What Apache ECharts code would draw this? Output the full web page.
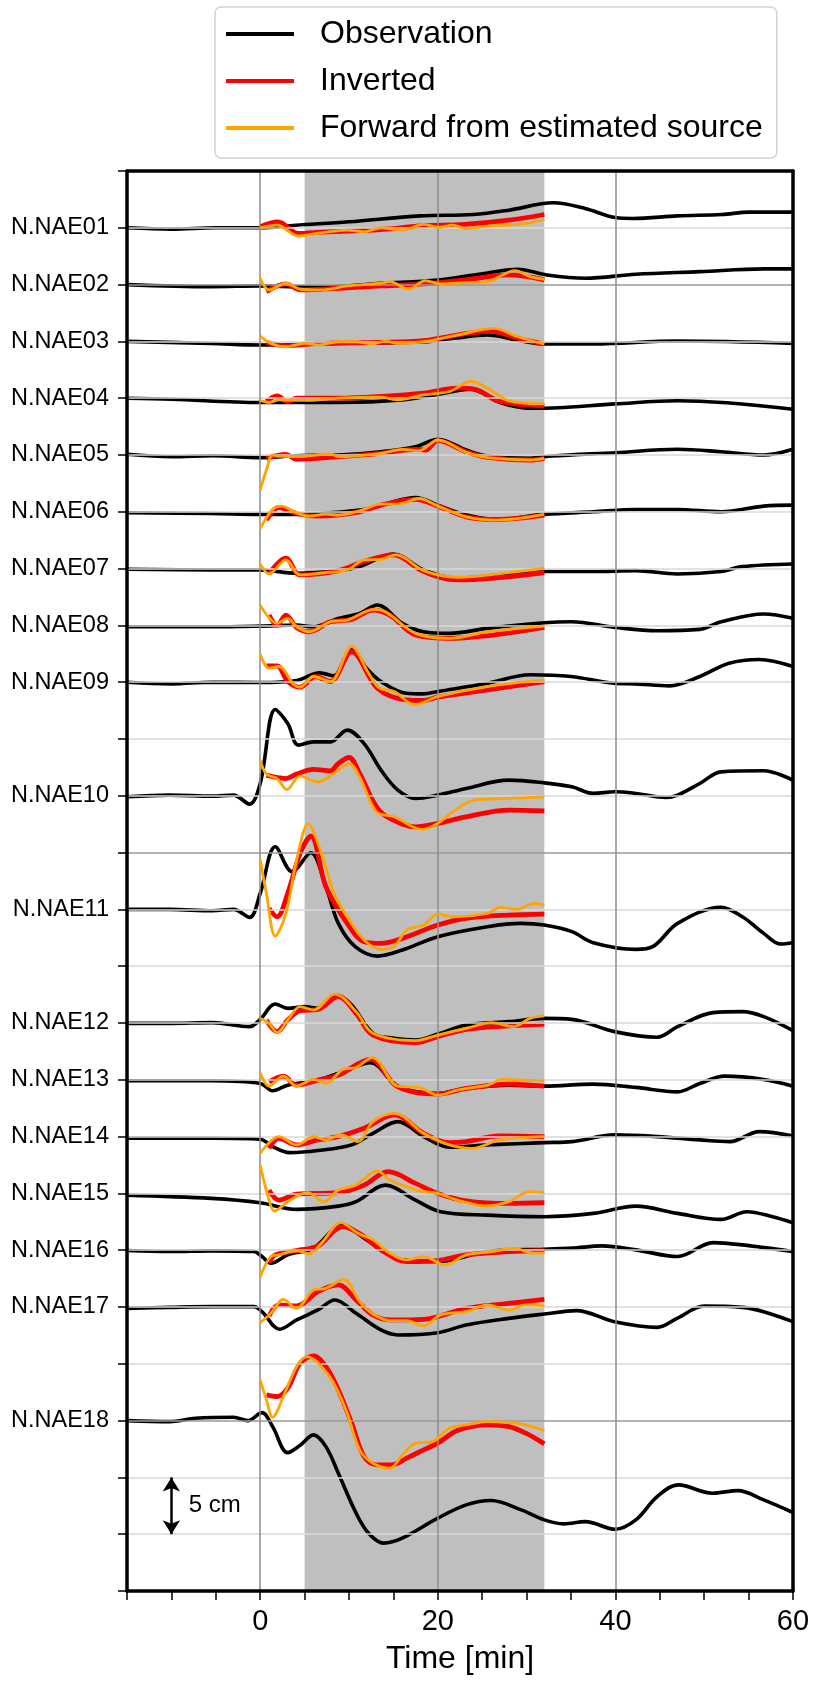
<!DOCTYPE html>
<html>
<head>
<meta charset="utf-8">
<script src="https://cdn.jsdelivr.net/npm/echarts@6/dist/echarts.min.js"></script>
<style>
html, body { margin: 0; padding: 0; background: #fff; }
#main { width: 814px; height: 1682px; }
</style>
</head>
<body>
<div id="main"></div>
<script>
// station names and their slot on the vertical axis (1 slot = 5 cm)
var stations = ['N.NAE01', 'N.NAE02', 'N.NAE03', 'N.NAE04', 'N.NAE05', 'N.NAE06', 'N.NAE07', 'N.NAE08', 'N.NAE09',
    'N.NAE10', 'N.NAE11', 'N.NAE12', 'N.NAE13', 'N.NAE14', 'N.NAE15', 'N.NAE16', 'N.NAE17', 'N.NAE18'];
var stationPos = [1, 2, 3, 4, 5, 6, 7, 8, 9, 11, 13, 15, 16, 17, 18, 19, 20, 22];
var cmPerSlot = 5;

// waveforms: [time min, displacement cm]
var observed = [
    [[-15,0],[-10,-0.12],[-5,0],[0,0],[4,0.23],[10,0.53],[18,1.05],[24,1.17],[28,1.55],[33,2.2],[36.6,1.7],[40,0.9],[42,0.82],[47,1.05],[52,1.17],[55,1.38],[60,1.38]],
    [[-15,0],[-5.5,-0.18],[0,-0.12],[6.5,-0.23],[13.6,0.12],[20,0.41],[24.6,0.91],[29,1.35],[32.3,0.85],[36.6,0.56],[42.3,0.91],[49.5,1.14],[56.7,1.38],[60,1.38]],
    [[-15,0],[-5.5,-0.18],[0,-0.32],[8.8,-0.18],[18.4,-0.03],[22,0.3],[25.6,0.56],[29,0.1],[32,-0.23],[37.5,-0.23],[47,0.03],[60,-0.18]],
    [[-15,0],[-10,-0.09],[0,-0.38],[8.8,-0.38],[16,-0.15],[20,0.35],[23.7,0.79],[27,-0.38],[30.4,-0.88],[32,-0.88],[40,-0.5],[47,-0.23],[60,-0.97]],
    [[-15,0.06],[-10,-0.15],[-5.3,-0.06],[0,-0.23],[4.1,-0.06],[8.8,0],[13.6,0.29],[17.5,0.73],[20,1.38],[23.2,0.44],[25.6,-0.09],[30.4,-0.29],[32.8,-0.09],[40,0.2],[47,0.5],[51.9,0.29],[56.7,0],[60,0.5]],
    [[-15,-0.09],[-5.5,-0.15],[0,-0.23],[4.1,-0.23],[11.2,0.15],[13.6,0.59],[17.5,1.26],[20,0.59],[23.2,-0.29],[26.6,-0.67],[32,-0.23],[37.5,0],[42.3,0.2],[47,0.2],[51.9,0],[56.7,0.5],[60,0.59]],
    [[-15,-0.06],[-5.5,-0.12],[0,-0.12],[4.1,-0.41],[8.8,-0.18],[11.2,0.18],[15,1.29],[18.4,-0.12],[22.2,-0.85],[28,-0.47],[32,-0.26],[37.5,-0.26],[42.3,-0.18],[47,-0.47],[51.9,-0.26],[54.3,0.18],[60,0.41]],
    [[-15,-0.12],[-5.5,-0.12],[0,-0.06],[4.1,0.03],[6,-0.12],[8.8,0.62],[11.2,1.06],[13.2,1.79],[16,0.18],[18.4,-0.56],[21.3,-0.7],[25.6,-0.26],[32,0.23],[35,0.32],[40,-0.18],[44.7,-0.47],[49.5,-0.35],[51.9,0.32],[56.7,1],[60,0.62]],
    [[-15,0],[-10,-0.15],[-5.5,0],[0,-0.03],[4.1,0.15],[6.7,0.82],[8.3,0.56],[10.3,2.85],[12,1.2],[13.6,0.06],[16.4,-0.97],[18.4,-1.03],[20,-0.82],[25.6,-0.09],[30.4,0.65],[35,0.5],[39.8,-0.09],[42.3,-0.15],[46.1,-0.32],[49.5,0.5],[52.8,1.67],[56.2,2.0],[60,1.38]],
    [[-15,-0.09],[-10.2,0.06],[-5.4,-0.03],[-3,0.06],[-1.2,-0.73],[0,1.08],[1.7,7.6],[3.1,6.36],[4.3,4.46],[6,4.75],[7.9,4.75],[9.8,5.78],[11.7,4.6],[13.6,2.26],[15.5,0.5],[17.5,-0.23],[20,0.06],[23.2,0.65],[28,1.38],[32,1.14],[35.1,0.79],[37.5,0.21],[39.9,0.35],[42.3,0.21],[45.7,-0.15],[47,0.06],[49.5,1.08],[51.9,2.11],[56.7,2.2],[60,1.38]],
    [[-15,0],[-10.2,0],[-5.4,-0.12],[-3,0],[-1.2,-0.7],[0,1.41],[1.7,5.51],[3.6,3.31],[5.7,4.99],[7.4,1.99],[8.8,-1.23],[10.7,-3.28],[13.2,-4.11],[16,-3.58],[20,-2.4],[25.6,-1.52],[29.4,-1.23],[32,-1.38],[35.1,-1.96],[37.5,-2.93],[42.3,-3.52],[44.2,-3.28],[47,-1.23],[51.9,0.18],[54.3,-0.65],[56.7,-2.11],[58.6,-3.05],[60,-2.93]],
    [[-15,-0.03],[-10.2,-0.03],[-5.4,0.03],[-1.2,-0.32],[0,0.32],[1.7,1.67],[3.1,1.29],[5,1.44],[6.5,1.29],[8.6,2.46],[10.3,1.58],[12.7,-0.91],[15.1,-1.35],[17.5,-1.5],[20,-0.97],[23.2,-0.18],[28,0.12],[32,0.41],[35.1,0.32],[39.9,-0.76],[44.7,-1.26],[47,-0.32],[51,0.91],[54.3,1],[56.7,0.56],[60,-0.67]],
    [[-15,-0.09],[-5.5,-0.09],[0,-0.32],[1.4,-0.97],[3.1,-0.47],[6.5,-0.03],[9.8,0.85],[12.4,1.5],[15.5,-0.56],[20,-1.2],[23.2,-0.76],[28,-0.47],[32,-0.56],[37.5,-0.38],[42.3,-0.67],[47,-1.06],[49.5,-0.32],[52.3,0.32],[56.7,0.03],[60,-0.56]],
    [[-15,-0.15],[-5.5,-0.15],[0,-0.23],[1.4,-0.88],[3.3,-1.41],[6.5,-1.23],[10.3,-0.73],[12.7,0.29],[15.5,1.32],[18.4,0],[21.3,-0.94],[25.6,-0.73],[32,-0.53],[35.1,-0.44],[39.9,0.15],[44.7,0],[49.5,-0.29],[52.9,-0.44],[56.2,0.44],[60,0.06]],
    [[-15,-0.15],[-5.5,-0.44],[0,-0.82],[4.1,-1.41],[8.8,-1.12],[10.8,-0.73],[14.1,0.73],[17.5,-0.59],[20.3,-1.61],[25.6,-1.91],[32,-2.05],[37.5,-1.76],[42.3,-1.12],[47,-1.76],[51.9,-2.29],[54.8,-1.61],[57.7,-2.05],[60,-2.58]],
    [[-15,-0.03],[-10.2,-0.12],[-5.4,-0.06],[-0.7,-0.12],[0.2,-0.56],[1.2,-1.14],[3.1,-0.41],[6,0.18],[9.3,2.23],[11.7,1.06],[13.6,0.09],[16,-0.85],[20,-1],[25.6,-0.12],[32,0.09],[35.1,0.18],[38.5,0.38],[42.3,0.03],[47,-0.56],[51,0.67],[54.3,0.47],[60,-0.12]],
    [[-15,-0.12],[-10.2,-0.03],[-5.4,0.03],[-0.7,0.03],[0.2,-0.41],[2.2,-1.96],[4.1,-1.14],[6.5,-0.26],[8.4,0.62],[10.8,-0.56],[13.6,-2.02],[15.5,-2.46],[20,-2.26],[23.2,-1.58],[28,-1],[32,-0.62],[35.6,-0.32],[39.9,-1.29],[44.7,-1.79],[47,-0.97],[50,0.09],[54.3,-0.03],[56.7,-0.41],[60,-1.29]],
    [[-15,0],[-10.2,-0.09],[-7.3,0.2],[-3,0.29],[-1.4,0],[0.2,0.7],[1.4,-0.53],[3.1,-2.82],[4.5,-2.17],[6,-1.26],[7.4,-2.29],[8.8,-4.63],[10.8,-8.15],[12.2,-9.91],[13.9,-10.79],[16,-10.35],[20,-8.59],[23.2,-7.42],[26,-7.04],[29.4,-7.86],[32,-8.74],[34.2,-9.09],[36.6,-8.89],[40,-9.56],[42.3,-8.74],[44.7,-6.69],[47.1,-5.66],[50.9,-6.39],[53.8,-6.16],[56.7,-6.98],[60,-8.09]]
];

var inverted = [
    [[0,0.1],[2,0.53],[4.3,-0.5],[6.5,-0.4],[13.6,-0.15],[18.4,0.18],[23,0.3],[28,0.67],[32,1.17]],
    [[0.7,-0.62],[2.9,0.06],[4.5,-0.47],[8.8,-0.32],[13.6,-0.12],[18.4,0.06],[23.2,0.41],[28,0.85],[32,0.41]],
    [[0.7,-0.09],[2.9,-0.38],[6.5,-0.18],[13.6,-0.09],[18.4,0.06],[22.2,0.56],[26,0.91],[29,0.26],[32,-0.23]],
    [[0.7,-0.29],[1.9,0.2],[3.1,-0.29],[4.1,0],[8.8,0],[13.6,0.15],[18.4,0.44],[22.2,0.88],[24.1,0.79],[27,-0.29],[32,-0.67]],
    [[0.7,-0.3],[2.9,0.06],[4.1,-0.38],[8.8,-0.15],[13.6,0.15],[17.5,0.5],[18.6,0.44],[20,1.26],[23.2,0.29],[25.6,-0.2],[30.4,-0.44],[32,-0.29]],
    [[0.7,-0.73],[2.1,0.38],[4.1,-0.15],[6.5,-0.38],[11.2,0],[13.6,0.59],[17.5,1.09],[20,0.5],[23.2,-0.44],[26.6,-0.67],[32,-0.29]],
    [[1,-0.47],[2.9,0.91],[4.5,-0.56],[8.8,-0.18],[11.7,0.62],[15,1.2],[18.4,-0.26],[22.2,-1],[32,-0.35]],
    [[1,0.91],[1.9,0.03],[2.9,0.91],[4.1,-0.18],[5.5,-0.56],[7.9,0.32],[10.3,0.53],[12.7,1.35],[14.6,0.91],[17.5,-0.85],[21.3,-1.14],[32,-0.18]],
    [[0.7,1.44],[1.9,1.44],[3.1,0.06],[4.5,-0.44],[6.2,0.5],[7.9,0.06],[10.3,2.7],[13.2,-0.53],[16.4,-1.55],[18.4,-1.61],[20,-1.32],[25.6,-0.67],[32,0.06]],
    [[0.7,1.82],[2.9,1.52],[4.1,1.91],[6,2.32],[7.9,2.2],[8.8,2.84],[10,3.37],[11.2,1.96],[13.1,-0.97],[14.6,-1.99],[17.5,-2.73],[20,-2.43],[23.2,-1.85],[28,-1.26],[32,-1.32]],
    [[1,0.09],[1.9,-0.65],[3.1,1.41],[4.5,4.93],[5.7,6.45],[7.4,1.99],[9.8,-1.23],[11.7,-2.85],[13.6,-2.99],[16,-2.55],[20,-1.38],[23.2,-0.79],[28,-0.5],[32,-0.41]],
    [[0.7,0.26],[1.9,-0.76],[3.1,0.26],[4.5,1.08],[6.5,1.2],[8.8,2.32],[10.8,0.85],[12.7,-1.06],[17.5,-1.73],[20,-1.2],[23.2,-0.56],[28,-0.26],[32,-0.09]],
    [[1,-0.18],[2.6,0.32],[4.1,-0.47],[6.5,-0.03],[8.8,0.41],[12.4,1.79],[15.5,-0.62],[20,-1.26],[23.2,-0.76],[28,-0.38],[32,-0.56]],
    [[1,-1.03],[2.1,-0.15],[4.1,-0.73],[6.5,-0.29],[8.8,0],[11.7,0.73],[15.1,1.91],[18.4,0.29],[21.3,-0.53],[23.2,-0.44],[27,0.06],[32,0]],
    [[1,0.29],[2.1,-0.59],[4.1,-0.06],[8.8,0.06],[11.7,0.73],[14.4,1.91],[17.5,0.88],[20,0],[23.2,-0.65],[28,-0.88],[32,-0.82]],
    [[1,-1.09],[1.7,-0.41],[4.1,-0.03],[6.5,0.38],[9.3,2.08],[11.7,1.2],[13.6,0.03],[16.5,-1],[20,-0.91],[23.2,-0.41],[28,-0.12],[32,-0.03]],
    [[1,-0.79],[2.1,0.18],[4.1,0.09],[6.5,1.35],[8.8,1.94],[10.8,0.62],[12.7,-0.7],[14.6,-1.14],[18.4,-1.09],[23.2,-0.12],[28,0.32],[32,0.67]],
    [[0.7,2.26],[1.9,2.11],[3.1,2.85],[4.5,5.04],[6,5.69],[7.4,4.75],[8.8,2.7],[10.3,-0.23],[11.7,-3.17],[13.1,-3.9],[14.8,-3.9],[16.5,-3.31],[18.4,-2.58],[20,-1.99],[22.2,-0.88],[25.6,-0.38],[28,-0.53],[29.9,-1.11],[32,-2.05]]
];

var forward = [
    [[0,0],[1.9,0.23],[4.3,-0.73],[6.4,-0.5],[9.8,-0.2],[11.7,-0.35],[13.6,0],[16,-0.2],[18.4,0.3],[20,0.03],[21.7,0.23],[23.2,-0.06],[25.6,0.15],[28,0.23],[30.4,0.44],[32,0.73]],
    [[0,0.56],[1,-0.47],[2.9,0.12],[4.5,-0.41],[6.9,-0.47],[9.8,-0.12],[13.6,0.12],[14.6,0.26],[16.7,-0.41],[18.6,0.35],[20.3,0.06],[23.2,0.18],[25.6,0.26],[28.7,1.23],[30.4,0.7],[32,0.47]],
    [[0,0.47],[1.2,-0.18],[2.9,-0.47],[5,-0.18],[6.5,-0.32],[8.8,-0.03],[10.8,-0.03],[12.6,-0.23],[14.1,0.03],[15.5,-0.18],[18.4,-0.03],[22.2,0.56],[26.3,1.14],[29,0.41],[32,-0.23]],
    [[0,-0.2],[1,-0.38],[2.1,-0.15],[5,-0.2],[8.8,0],[13.6,0.09],[15.5,-0.15],[18.4,0.29],[21.3,0.59],[23.7,1.47],[25.6,0.88],[28,-0.23],[32,-0.5]],
    [[0,-3.08],[0.7,-1.32],[1.4,0],[2.1,-0.09],[4.1,-0.15],[7.9,0.09],[8.8,-0.15],[13.6,0.15],[16,0.5],[17.9,0.38],[20,1.32],[23.2,0.23],[25.6,-0.23],[30.4,-0.44],[32,-0.29]],
    [[0,-1.47],[1.4,0.2],[2.4,0.5],[4.1,-0.09],[5.5,-0.38],[7.4,-0.2],[8.8,-0.29],[11.2,0.09],[13.6,0.67],[15.5,0.67],[17.9,1.17],[20,0.5],[23.2,-0.44],[26.6,-0.73],[32,-0.23]],
    [[0,0.41],[1,-0.47],[2.9,0.76],[4.5,-0.56],[7.4,-0.35],[9.8,-0.12],[11.7,0.76],[13.6,0.82],[15.3,1.2],[18.4,-0.18],[22.2,-0.76],[28,-0.35],[32,0.03]],
    [[0,1.79],[1.9,0.18],[3.1,0.62],[4.1,-0.12],[5.5,-0.56],[7.9,0.32],[9.8,0.47],[12.9,1.41],[14.1,1.2],[17.5,-0.7],[21.3,-1.14],[25.6,-0.56],[32,-0.06]],
    [[0,2.46],[1,1.23],[2.1,1.38],[3.8,-0.23],[4.5,-0.44],[6,0.5],[7.9,0.06],[10.3,3.14],[12.2,0.8],[13.4,-0.5],[15.1,-0.82],[17.4,-1.99],[20,-1.26],[25.6,-0.38],[32,0.2]],
    [[0,3.14],[0.7,1.91],[1.9,1.52],[3,0.56],[4.5,1.73],[6.5,1.23],[8.8,2.26],[10,2.84],[11.2,1.67],[13.1,-1.41],[15.1,-1.85],[18.2,-2.96],[20,-2.43],[21.7,-1.41],[24.1,-0.38],[28,-0.23],[32,-0.09]],
    [[0,4.4],[0.7,1.41],[1.7,-2.35],[2.9,-0.35],[4.1,4.34],[5.4,7.51],[6.9,4.93],[8.3,1.41],[9.8,-0.65],[11.7,-2.7],[13.6,-3.52],[15.1,-3.23],[16.5,-1.82],[18.4,-1.38],[20,-0.41],[21.7,-0.65],[25.6,-0.35],[27,0.18],[28.9,0],[30.8,0.53],[32,0.38]],
    [[0,0.41],[1,-0.03],[1.9,-0.85],[3.1,0.26],[4.5,1.44],[6,1.14],[8.4,2.55],[10.8,1],[12.7,-0.91],[17.5,-1.55],[20,-1.06],[23.2,-0.47],[26.1,0.03],[28.5,-0.32],[30.4,0.41],[32,0.62]],
    [[0,0.62],[1,-0.56],[2.6,0.32],[4.1,-0.56],[6,0.03],[7.4,-0.32],[9.3,0.91],[10.8,1.08],[12.6,1.96],[15.5,-0.56],[17.9,-0.67],[20,-1.35],[22.2,-0.91],[25.6,-0.47],[27.3,0.03],[29.7,-0.03],[32,-0.09]],
    [[0,-1.47],[2.1,0],[4.1,-0.73],[6,0],[7.4,-0.29],[9.1,0.15],[11,-0.44],[12.7,1.32],[15.1,2.05],[18.4,0.29],[21.3,-0.73],[23.9,-1.03],[27,-0.29],[32,0]],
    [[0,2.49],[1,-0.59],[1.6,-1.55],[3.1,-0.73],[5.3,0.06],[7.2,-0.73],[8.8,0.29],[10.8,0.73],[13.2,1.99],[14.6,1.17],[17.9,0.23],[20,0],[22.2,-0.59],[25.6,-1.11],[28,-0.73],[30.4,0.15],[32,0.06]],
    [[0,-2.39],[1.2,-0.56],[2.1,-0.41],[4.1,-0.06],[5.5,-0.32],[6.9,0.62],[9.1,2.43],[11,1.49],[12.7,0.91],[14.6,-0.26],[16.5,-0.85],[18.4,-0.56],[20.8,-1.29],[23.2,-0.41],[26.1,-0.12],[28.5,0.18],[30.8,-0.26],[32,-0.26]],
    [[0,-1.38],[1.2,-0.56],[2.6,0.67],[4.1,-0.12],[6,1.49],[7.4,1.64],[9.4,2.43],[11.2,0.47],[12.7,-0.62],[14.6,-1.2],[16.5,-1.2],[18.4,-1.67],[20.3,-0.7],[23.2,-0.41],[25.6,0.18],[28,-0.26],[29.9,0.18],[32,0.09]],
    [[0,3.58],[0.7,1.82],[1.4,0.29],[2.6,2.11],[4.1,4.75],[5.3,5.63],[6.9,4.75],[8.3,3.28],[9.8,0.65],[11.2,-2.58],[12.7,-3.75],[14.6,-4.19],[16,-3.02],[17.5,-1.99],[19.4,-1.85],[21.3,-0.67],[23.2,-0.38],[25.6,-0.09],[28,-0.18],[29.9,-0.38],[32,-0.88]]
];

var xTickLabels = [0, 20, 40, 60];
var timeGrid = [0, 20, 40];
var inversionWindow = [5, 32];
var scaleBar = { time: -10, from: 23, cm: 5 };

var FONT = 'Liberation Sans, Arial, Helvetica, sans-serif';

function toSlots(pairs, pos) {
    return pairs.map(function (p) { return [p[0], pos - p[1] / cmPerSlot]; });
}

function traceSeries(name, color, width, z, pairs, pos) {
    return {
        name: name,
        type: 'line',
        data: toSlots(pairs, pos),
        smooth: 0.35,
        showSymbol: false,
        symbol: 'none',
        silent: true,
        z: z,
        lineStyle: { color: color, width: width },
        itemStyle: { color: color }
    };
}

var hLines = [];
for (var v = 1; v < 25; v++) {
    hLines.push({ yAxis: v, lineStyle: { color: (v % 10 === 2) ? '#9a9a9a' : '#d9d9d9', width: 1.5, type: 'solid' } });
}

var series = [
    {   // inversion window shading
        type: 'line', data: [[-15, 0]], symbol: 'none', lineStyle: { width: 0 }, z: 1, silent: true,
        markArea: {
            silent: true,
            itemStyle: { color: '#bfbfbf' },
            data: [[{ xAxis: inversionWindow[0] }, { xAxis: inversionWindow[1] }]]
        }
    },
    {   // grid lines drawn above the shading
        type: 'line', data: [[-15, 0]], symbol: 'none', lineStyle: { width: 0 }, z: 2, silent: true,
        markLine: {
            silent: true, symbol: 'none', label: { show: false }, animation: false,
            data: hLines.concat(timeGrid.map(function (t) {
                return { xAxis: t, lineStyle: { color: '#8c8c8c', width: 1.5, type: 'solid' } };
            }))
        }
    }
];

stations.forEach(function (s, i) {
    series.push(traceSeries('Observation', '#000000', 3.6, 3, observed[i], stationPos[i]));
});
stations.forEach(function (s, i) {
    series.push(traceSeries('Inverted', '#ff0000', 4.8, 4, inverted[i], stationPos[i]));
});
stations.forEach(function (s, i) {
    series.push(traceSeries('Forward from estimated source', '#ffa500', 2.8, 5, forward[i], stationPos[i]));
});

// 5 cm scale bar
series.push({
    type: 'line', data: [[-15, 0]], symbol: 'none', lineStyle: { width: 0 }, z: 6, silent: true,
    markLine: {
        silent: true, animation: false,
        symbol: ['arrow', 'arrow'], symbolSize: [13, 14],
        label: { show: false },
        lineStyle: { color: '#000', width: 2.5, type: 'solid', opacity: 1 },
        data: [[{ coord: [scaleBar.time, scaleBar.from] }, { coord: [scaleBar.time, scaleBar.from + 1] }]]
    }
});
series.push({
    type: 'scatter', data: [[scaleBar.time + 1.4, scaleBar.from + 0.5]], symbolSize: 0, z: 6, silent: true,
    itemStyle: { opacity: 1, color: '#000' },
    label: {
        show: true, position: 'right', distance: 5, formatter: scaleBar.cm + ' cm',
        color: '#000', fontSize: 24, fontFamily: FONT, textBorderWidth: 0
    }
});

var myChart = echarts.init(document.getElementById('main'), null, { renderer: 'canvas' });
var option = {
    animation: false,
    backgroundColor: '#fff',
    grid: { left: 127, right: 21, top: 171, bottom: 91, outerBoundsMode: 'none' },
    legend: {
        orient: 'vertical',
        left: 215, top: 7,
        padding: [7, 14, 10, 11],
        icon: 'rect',
        itemWidth: 68, itemHeight: 4, itemGap: 7,
        borderColor: '#d4d4d4', borderWidth: 1.5, borderRadius: 6,
        backgroundColor: '#fff',
        textStyle: { fontSize: 32, fontFamily: FONT, color: '#000', lineHeight: 40, padding: [0, 0, 0, 21] },
        data: ['Observation', 'Inverted', 'Forward from estimated source']
    },
    xAxis: [{
        type: 'value', min: -15, max: 60, interval: 5, position: 'bottom', z: 10,
        axisLine: { onZero: false, lineStyle: { color: '#000', width: 3.5 } },
        axisTick: { length: 9, lineStyle: { color: '#000', width: 1.5 } },
        axisLabel: {
            color: '#000', fontSize: 29, fontFamily: FONT, margin: 16,
            formatter: function (val) { return xTickLabels.indexOf(val) >= 0 ? String(val) : ''; }
        },
        splitLine: { show: false },
        name: 'Time [min]', nameLocation: 'middle', nameGap: 52,
        nameTextStyle: { color: '#000', fontSize: 32, fontFamily: FONT }
    }, {
        type: 'value', min: -15, max: 60, position: 'top', z: 10,
        axisLine: { onZero: false, lineStyle: { color: '#000', width: 3.5 } },
        axisTick: { show: false }, axisLabel: { show: false }, splitLine: { show: false }
    }],
    yAxis: [{
        type: 'value', inverse: true, min: 0, max: 25, interval: 1, position: 'left', z: 10,
        axisLine: { onZero: false, lineStyle: { color: '#000', width: 3.5 } },
        axisTick: { length: 9, lineStyle: { color: '#000', width: 1.5 } },
        axisLabel: {
            color: '#000', fontSize: 23.5, fontFamily: FONT, margin: 18,
            formatter: function (val) {
                var idx = stationPos.indexOf(val);
                return idx >= 0 ? stations[idx] : '';
            }
        },
        splitLine: { show: false }
    }, {
        type: 'value', inverse: true, min: 0, max: 25, position: 'right', z: 10,
        axisLine: { onZero: false, lineStyle: { color: '#000', width: 3.5 } },
        axisTick: { show: false }, axisLabel: { show: false }, splitLine: { show: false }
    }],
    series: series
};
myChart.setOption(option);
</script>
</body>
</html>
